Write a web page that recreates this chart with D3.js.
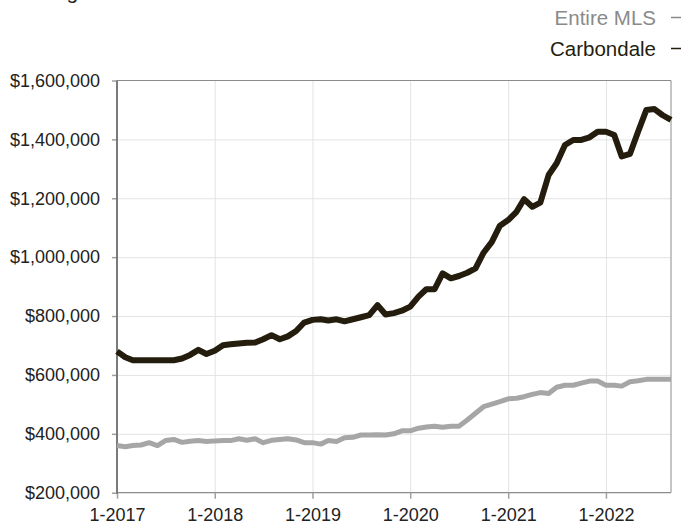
<!DOCTYPE html>
<html>
<head>
<meta charset="utf-8">
<script src="https://cdn.jsdelivr.net/npm/d3@7"></script>
<style>
  body { margin: 0; background: #fff; }
  svg { display: block; font-family: "Liberation Sans", Arial, Helvetica, sans-serif; }
  .grid line { stroke: #e3e3e3; stroke-width: 1; }
  .grid path { display: none; }
  .axis path { display: none; }
  .axis line { stroke: #a0a0a0; stroke-width: 1.5; }
  .axis text { fill: #222; font-size: 18px; }
</style>
</head>
<body>
<div id="chart"></div>
<script>
// monthly points, 1-2017 .. 9-2022
const startMonth = new Date(2017, 0, 1);
const endMonth = new Date(2022, 8, 1);

const carbondale = [
  680000, 660000, 650000, 650000, 650000, 650000, 650000, 650000, 656000, 668000,
  685000, 671000, 682000, 701000, 704000, 707000, 709000, 710000, 721000, 735000,
  721000, 731000, 749000, 778000, 787000, 789000, 785000, 789000, 782000, 789000,
  796000, 803000, 837000, 805000, 810000, 818000, 832000, 866000, 891000, 891000,
  945000, 928000, 936000, 947000, 962000, 1015000, 1052000, 1107000, 1126000, 1154000,
  1197000, 1171000, 1185000, 1279000, 1319000, 1381000, 1398000, 1398000, 1407000, 1426000,
  1426000, 1415000, 1342000, 1351000, 1426000, 1500000, 1503000, 1482000, 1466000
];

const entireMLS = [
  360000, 356000, 360000, 362000, 370000, 360000, 377000, 381000, 371000, 375000,
  377000, 374000, 376000, 377000, 377000, 383000, 378000, 383000, 370000, 378000,
  381000, 383000, 379000, 370000, 370000, 365000, 377000, 374000, 387000, 388000,
  396000, 396000, 397000, 396000, 400000, 410000, 410000, 419000, 423000, 426000,
  422000, 426000, 426000, 447000, 470000, 492000, 501000, 509000, 519000, 521000,
  526000, 534000, 540000, 537000, 558000, 565000, 565000, 572000, 579000, 579000,
  565000, 565000, 562000, 577000, 580000, 585000, 585000, 585000, 585000
];

const yTicks = [200000, 400000, 600000, 800000, 1000000, 1200000, 1400000, 1600000];
const xTicks = [2017, 2018, 2019, 2020, 2021, 2022];

const seriesNames = ['Entire MLS', 'Carbondale'];
const seriesColors = ['#a6a6a6', '#241d0e'];
const legendColors = ['#8a8a8a', '#241d0e'];

const svgWidth = 688;
const svgHeight = 525;
const margin = {top: 80.5, right: 17, bottom: 32.3, left: 117};
const width = svgWidth - margin.left - margin.right;
const height = svgHeight - margin.top - margin.bottom;

const months = d3.timeMonth.range(startMonth, d3.timeMonth.offset(endMonth, 1));

const svg = d3.select('#chart').append('svg')
  .attr('width', svgWidth)
  .attr('height', svgHeight);

// title, mostly cut off at the top edge (as in the source picture)
svg.append('text')
  .attr('x', 14)
  .attr('y', -1)
  .attr('font-size', 21)
  .attr('fill', '#222')
  .text('Rolling 12-Month Calculation');

const xScale = d3.scaleTime()
  .domain([startMonth, endMonth])
  .range([0, width]);

const yScale = d3.scaleLinear()
  .domain([200000, 1600000])
  .range([height, 0]);

const g = svg.append('g')
  .attr('transform', `translate(${margin.left},${margin.top})`);

const yearDates = xTicks.map(y => new Date(y, 0, 1));

// grid
g.append('g')
  .attr('class', 'grid')
  .call(d3.axisLeft(yScale).tickValues(yTicks.slice(1, -1)).tickSize(-width).tickFormat(''));

g.append('g')
  .attr('class', 'grid')
  .attr('transform', `translate(0,${height})`)
  .call(d3.axisBottom(xScale).tickValues(yearDates.slice(1)).tickSize(-height).tickFormat(''));

// frame
g.append('line')
  .attr('x1', 0).attr('x2', width).attr('y1', 0).attr('y2', 0)
  .attr('stroke', '#8c8c8c').attr('stroke-width', 1);
g.append('line')
  .attr('x1', width).attr('x2', width).attr('y1', 0).attr('y2', height)
  .attr('stroke', '#8c8c8c').attr('stroke-width', 1);
g.append('line')
  .attr('x1', 0).attr('x2', width).attr('y1', height).attr('y2', height)
  .attr('stroke', '#8c8c8c').attr('stroke-width', 1.2);

// axes
g.append('g')
  .attr('class', 'y axis')
  .call(d3.axisLeft(yScale).tickValues(yTicks).tickSize(5).tickPadding(12)
    .tickFormat(d => '$' + d3.format(',')(d)));

g.append('g')
  .attr('class', 'x axis')
  .attr('transform', `translate(0,${height})`)
  .call(d3.axisBottom(xScale).tickValues(yearDates).tickSize(6).tickPadding(10)
    .tickFormat(d => `${d.getMonth() + 1}-${d.getFullYear()}`));

g.append('line')
  .attr('x1', 0).attr('x2', 0).attr('y1', 0).attr('y2', height + 1)
  .attr('stroke', '#7a7a7a').attr('stroke-width', 2);

// lines
const line = d3.line()
  .x((d, i) => xScale(months[i]))
  .y(d => yScale(d));

g.append('path')
  .datum(entireMLS)
  .attr('fill', 'none')
  .attr('stroke', seriesColors[0])
  .attr('stroke-width', 5)
  .attr('stroke-linejoin', 'round')
  .attr('d', line);

g.append('path')
  .datum(carbondale)
  .attr('fill', 'none')
  .attr('stroke', seriesColors[1])
  .attr('stroke-width', 6)
  .attr('stroke-linejoin', 'round')
  .attr('d', line);

// legend
const legend = svg.append('g').attr('class', 'legend');
seriesNames.forEach((name, i) => {
  const y = 25 + i * 31;
  legend.append('text')
    .attr('x', 656)
    .attr('y', y)
    .attr('text-anchor', 'end')
    .attr('font-size', 20.5)
    .attr('fill', legendColors[i])
    .text(name);
  legend.append('line')
    .attr('x1', 671).attr('x2', 681)
    .attr('y1', y - 7.5).attr('y2', y - 7.5)
    .attr('stroke', legendColors[i])
    .attr('stroke-width', 1.5);
});
</script>
</body>
</html>
